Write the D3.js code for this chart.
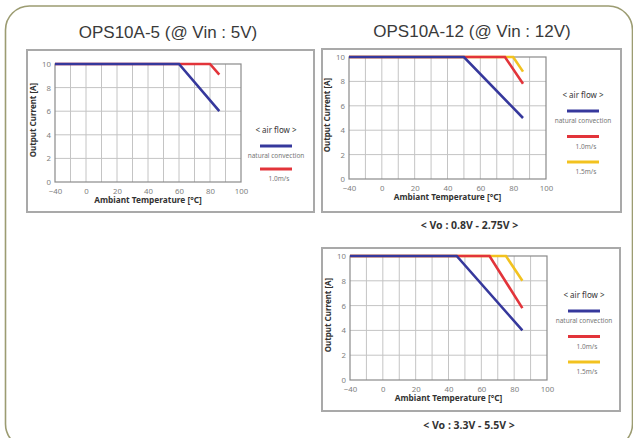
<!DOCTYPE html>
<html><head><meta charset="utf-8">
<script src="https://cdn.jsdelivr.net/npm/d3@7"></script>
<style>body{margin:0;background:#fff}svg{display:block}</style>
</head><body>
<svg id="c" width="633" height="438"></svg>
<script>
// ---- data ----
const xTickLabels = [-40, 0, 20, 40, 60, 80, 100];
const xGridValues = [-20, 0, 10, 20, 30, 40, 50, 60, 70, 80, 90];
const yTickValues = [0, 2, 4, 6, 8, 10];
const seriesNames = ["natural convection", "1.0m/s", "1.5m/s"];

// chart 1 : OPS10A-5
const c1NaturalTemp = [-40, 60, 86];
const c1NaturalAmp  = [10, 10, 6];
const c1Air10Temp   = [-40, 80, 86];
const c1Air10Amp    = [10, 10, 9.1];

// chart 2 : OPS10A-12, Vo 0.8V - 2.75V
const c2NaturalTemp = [-40, 50, 86];
const c2NaturalAmp  = [10, 10, 5];
const c2Air10Temp   = [-40, 75, 86];
const c2Air10Amp    = [10, 10, 7.8];
const c2Air15Temp   = [-40, 80, 86];
const c2Air15Amp    = [10, 10, 8.8];

// chart 3 : OPS10A-12, Vo 3.3V - 5.5V
const c3NaturalTemp = [-40, 45, 85];
const c3NaturalAmp  = [10, 10, 4];
const c3Air10Temp   = [-40, 65, 85];
const c3Air10Amp    = [10, 10, 5.8];
const c3Air15Temp   = [-40, 75, 85];
const c3Air15Amp    = [10, 10, 8];

const titles = ["OPS10A-5 (@ Vin : 5V)", "OPS10A-12 (@ Vin : 12V)"];
const captions = ["< Vo : 0.8V - 2.75V >", "< Vo : 3.3V - 5.5V >"];

// ---- styling / layout ----
const colors = ["#36389c", "#e2343a", "#f2c21f"];
const zip = (t, a) => t.map((d, i) => ({t: d, a: a[i]}));

const charts = [
  {frame:{x:27,y:50,w:287,h:162}, plot:{l:55,t:64,r:241,b:182},
   legend:{cx:276, y:130, step:23},
   series:[zip(c1NaturalTemp,c1NaturalAmp), zip(c1Air10Temp,c1Air10Amp)], caption:null, capY:0},
  {frame:{x:322,y:49,w:299,h:163}, plot:{l:349,t:57,r:546,b:179},
   legend:{cx:583, y:95, step:25.5},
   series:[zip(c2NaturalTemp,c2NaturalAmp), zip(c2Air10Temp,c2Air10Amp), zip(c2Air15Temp,c2Air15Amp)],
   caption:captions[0], capY:225},
  {frame:{x:322,y:248,w:298,h:163}, plot:{l:350,t:256,r:547,b:380},
   legend:{cx:584, y:295, step:25.5},
   series:[zip(c3NaturalTemp,c3NaturalAmp), zip(c3Air10Temp,c3Air10Amp), zip(c3Air15Temp,c3Air15Amp)],
   caption:captions[1], capY:425}
];

const svg = d3.select("#c");
const font = "'Noto Sans', 'DejaVu Sans', sans-serif";

// outer rounded border
svg.append("rect").attr("x",5.5).attr("y",6).attr("width",627).attr("height",442)
  .attr("rx",24).attr("fill","none").attr("stroke","#9c9c72").attr("stroke-width",1.6);

// titles
svg.append("text").attr("x",168).attr("y",38).attr("text-anchor","middle")
  .attr("font-family","'Liberation Sans', Arial, sans-serif").attr("font-size",17).attr("fill","#3a3a3a").text(titles[0]);
svg.append("text").attr("x",472).attr("y",37).attr("text-anchor","middle")
  .attr("font-family","'Liberation Sans', Arial, sans-serif").attr("font-size",17).attr("fill","#3a3a3a").text(titles[1]);

charts.forEach(ch => {
  const g = svg.append("g");
  const f = ch.frame, p = ch.plot;
  g.append("rect").attr("x",f.x).attr("y",f.y).attr("width",f.w).attr("height",f.h)
    .attr("fill","#fff").attr("stroke","#a9a9a9").attr("stroke-width",2);

  const w = p.r - p.l;
  const x = d3.scaleLinear().domain([-40, 0, 100]).range([p.l, p.l + w*2/12, p.r]);
  const y = d3.scaleLinear().domain([0, 10]).range([p.b, p.t]);

  // grid
  g.append("g").selectAll("line").data(xGridValues).join("line")
    .attr("x1", d => x(d)).attr("x2", d => x(d)).attr("y1", p.t).attr("y2", p.b)
    .attr("stroke","#c4c4c4").attr("stroke-width",1);
  g.append("g").selectAll("line").data(yTickValues.slice(1, -1)).join("line")
    .attr("x1", p.l).attr("x2", p.r).attr("y1", d => y(d)).attr("y2", d => y(d))
    .attr("stroke","#c4c4c4").attr("stroke-width",1);
  g.append("rect").attr("x",p.l).attr("y",p.t).attr("width",w).attr("height",p.b-p.t)
    .attr("fill","none").attr("stroke","#8a8a8a").attr("stroke-width",1.2);

  // axes
  const xa = g.append("g").attr("transform",`translate(0,${p.b})`)
    .call(d3.axisBottom(x).tickValues(xTickLabels).tickSize(0).tickPadding(6));
  const ya = g.append("g").attr("transform",`translate(${p.l},0)`)
    .call(d3.axisLeft(y).tickValues(yTickValues).tickSize(0).tickPadding(4));
  [xa, ya].forEach(a => {
    a.select(".domain").remove();
    a.selectAll("text").attr("font-family",font).attr("font-size",7.8).attr("fill","#808080");
  });

  g.append("text").attr("x", (p.l+p.r)/2).attr("y", p.b + 21).attr("text-anchor","middle")
    .attr("font-family",font).attr("font-weight","bold").attr("font-size",8.3).attr("fill","#333")
    .text("Ambiant Temperature [°C]");
  g.append("text").attr("transform",`translate(${p.l-19},${(p.t+p.b)/2 - 3}) rotate(-90)`)
    .attr("text-anchor","middle").attr("font-family",font).attr("font-weight","bold")
    .attr("font-size",8).attr("fill","#333").text("Output Current [A]");

  // data lines (drawn fastest airflow first so natural convection sits on top)
  const line = d3.line().x(d => x(d.t)).y(d => y(d.a));
  const order = ch.series.map((s,i) => i).reverse();
  order.forEach(i => {
    g.append("path").datum(ch.series[i]).attr("d", line).attr("fill","none")
      .attr("stroke", colors[i]).attr("stroke-width", 2.6).attr("stroke-linejoin","miter");
  });

  // legend
  const L = ch.legend;
  g.append("text").attr("x",L.cx).attr("y",L.y).attr("dy","0.35em").attr("text-anchor","middle")
    .attr("font-family",font).attr("font-size",8).attr("fill","#333").text("< air flow >");
  ch.series.forEach((s,i) => {
    const ly = L.y + 16 + i*L.step;
    g.append("line").attr("x1",L.cx-16).attr("x2",L.cx+16).attr("y1",ly).attr("y2",ly)
      .attr("stroke",colors[i]).attr("stroke-width",3);
    g.append("text").attr("x", i === 0 ? L.cx : L.cx + 3).attr("y", ly + 10).attr("dy","0.35em")
      .attr("text-anchor","middle").attr("font-family",font).attr("font-size",6.5).attr("fill","#777")
      .text(seriesNames[i]);
  });

  if (ch.caption) {
    svg.append("text").attr("x",(f.x + f.x + f.w)/2 - 2).attr("y",ch.capY).attr("dy","0.35em")
      .attr("text-anchor","middle").attr("font-family",font).attr("font-weight","bold")
      .attr("font-size",10.5).attr("fill","#333").text(ch.caption);
  }
});
</script>
</body></html>
